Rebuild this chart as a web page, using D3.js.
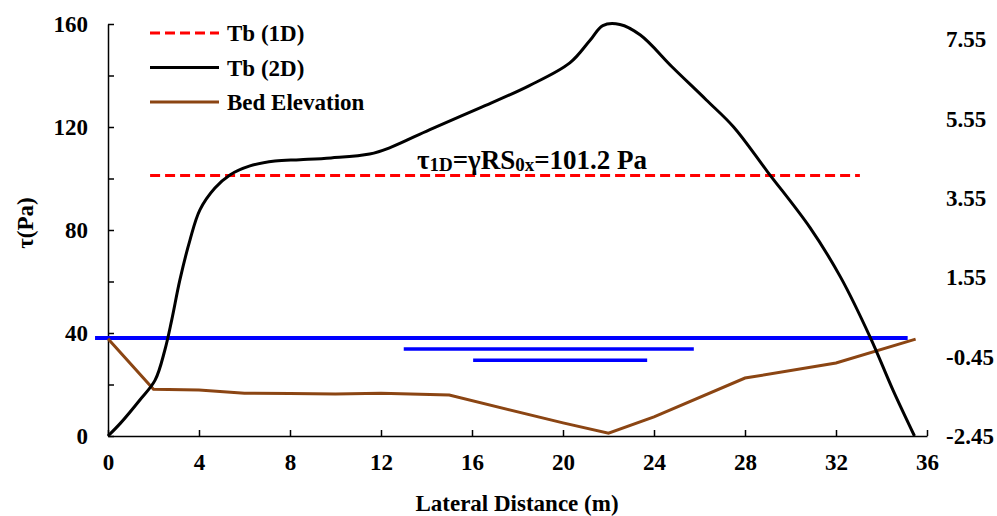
<!DOCTYPE html>
<html>
<head>
<meta charset="utf-8">
<script src="https://cdn.jsdelivr.net/npm/d3@7"></script>
<style>
  body { margin: 0; background: #fff; }
  svg text { font-family: "Times New Roman", "Liberation Serif", serif; font-weight: bold; fill: #000; }
</style>
</head>
<body>
<div id="chart"></div>
<script>
// Tb (2D) shear stress, Pa
const tb2dX = [0, 0.55, 1.4, 2.07, 2.5, 2.8, 3.16, 3.6, 4.04, 4.7, 5.36, 6.24, 7.34, 8.44, 9.8, 11.5, 12.4, 14.15, 16.35, 18.5, 20.3, 21.2, 21.75, 22.5, 23.4, 24.8, 26.3, 27.5, 29, 30.85, 32.2, 33.5, 34.5, 35.45];
const tb2dY = [0, 5, 14, 21.7, 33.4, 45, 60.6, 76, 87.8, 96.3, 101.4, 104.9, 106.8, 107.3, 108, 109.5, 112, 119, 127.4, 136, 144.9, 153.8, 159.4, 159.8, 155.7, 143.3, 130.5, 120, 102.5, 81, 61.7, 38.4, 17.9, 0];

// Tb (1D) constant value
const tb1dValue = 101.2;
const tb1dRange = [1.85, 33.05];

// Bed elevation (right axis, m)
const bedX = [0, 2, 4, 6, 8, 10, 12, 15, 20, 22, 24, 28, 32, 35.5];
const bedY = [0.0, -1.27, -1.29, -1.37, -1.38, -1.39, -1.37, -1.42, -2.12, -2.38, -1.97, -0.99, -0.61, -0.01];

// water surface marker lines (right axis units)
const waterX0 = [-0.57, 13.0, 16.05];
const waterX1 = [35.15, 25.75, 23.7];
const waterY = [0.02, -0.26, -0.54];

const xTicks = [0, 4, 8, 12, 16, 20, 24, 28, 32, 36];
const leftTicks = [0, 20, 40, 60, 80, 100, 120, 140, 160];
const rightTicks = [-2.45, -0.45, 1.55, 3.55, 5.55, 7.55];

const legendNames = ["Tb (1D)", "Tb (2D)", "Bed Elevation"];
const legendColors = ["#ff0000", "#000000", "#8b4513"];

const width = 997, height = 516;
const margin = { top: 24, left: 108 };
const fs = "23px";

const svg = d3.select("#chart").append("svg")
  .attr("width", width).attr("height", height);

const x = d3.scaleLinear().domain([0, 36]).range([margin.left, 927]);
const yL = d3.scaleLinear().domain([0, 160]).range([436, margin.top]);
const yR = d3.scaleLinear().domain([-2.45, 7.93]).range([436, margin.top]);

// axes
const xAxis = svg.append("g")
  .attr("transform", `translate(0,${yL(0)})`)
  .call(d3.axisBottom(x).tickValues(xTicks).tickSize(-6).tickPadding(18).tickSizeOuter(0));
xAxis.selectAll("text").style("font-size", fs);

const yAxis = svg.append("g")
  .attr("transform", `translate(${x(0)},0)`)
  .call(d3.axisLeft(yL).tickValues(leftTicks).tickSize(-6).tickPadding(20).tickSizeOuter(0)
    .tickFormat(d => d % 40 === 0 ? d : ""));
yAxis.selectAll("text").style("font-size", fs);

svg.selectAll(".domain, .tick line").attr("stroke", "#000").attr("stroke-width", 1.5);

svg.append("g").selectAll("text")
  .data(rightTicks).join("text")
  .attr("x", 946)
  .attr("y", d => yR(d))
  .attr("dy", "0.35em")
  .style("font-size", fs)
  .text(d => d.toFixed(2));

// axis titles
svg.append("text")
  .attr("x", 517).attr("y", 511)
  .attr("text-anchor", "middle")
  .style("font-size", fs)
  .text("Lateral Distance (m)");

svg.append("text")
  .attr("transform", `translate(33,223) rotate(-90)`)
  .attr("text-anchor", "middle")
  .style("font-size", fs)
  .text("τ(Pa)");

// water surface lines
svg.append("g").selectAll("line")
  .data(waterY).join("line")
  .attr("x1", (d, i) => x(waterX0[i]))
  .attr("x2", (d, i) => x(waterX1[i]))
  .attr("y1", d => yR(d))
  .attr("y2", d => yR(d))
  .attr("stroke", "#0000ff")
  .attr("stroke-width", (d, i) => i === 0 ? 4 : 3.5);

// bed elevation
svg.append("path")
  .datum(bedX.map((d, i) => [d, bedY[i]]))
  .attr("fill", "none")
  .attr("stroke", "#8b4513")
  .attr("stroke-width", 3)
  .attr("d", d3.line().x(d => x(d[0])).y(d => yR(d[1])));

// Tb (1D)
svg.append("line")
  .attr("x1", x(tb1dRange[0])).attr("x2", x(tb1dRange[1]))
  .attr("y1", yL(tb1dValue)).attr("y2", yL(tb1dValue))
  .attr("stroke", "#ff0000")
  .attr("stroke-width", 3)
  .attr("stroke-dasharray", "10,5");

// Tb (2D)
svg.append("path")
  .datum(tb2dX.map((d, i) => [d, tb2dY[i]]))
  .attr("fill", "none")
  .attr("stroke", "#000")
  .attr("stroke-width", 3)
  .attr("d", d3.line().curve(d3.curveCatmullRom.alpha(0.5)).x(d => x(d[0])).y(d => yL(d[1])));

// annotation
const ann = svg.append("text")
  .attr("x", 417).attr("y", 169)
  .style("font-size", "27px");
ann.append("tspan").text("τ");
ann.append("tspan").attr("dy", 2).style("font-size", "19px").text("1D");
ann.append("tspan").attr("dy", -2).text("=γRS");
ann.append("tspan").attr("dy", 2).style("font-size", "19px").text("0x");
ann.append("tspan").attr("dy", -2).text("=101.2 Pa");

// legend
const legend = svg.append("g");
legendNames.forEach((name, i) => {
  const ly = 33 + i * 34.5;
  legend.append("line")
    .attr("x1", 150).attr("x2", 219)
    .attr("y1", ly).attr("y2", ly)
    .attr("stroke", legendColors[i])
    .attr("stroke-width", 3)
    .attr("stroke-dasharray", i === 0 ? "10,5" : null);
  legend.append("text")
    .attr("x", 227).attr("y", ly)
    .attr("dy", "0.35em")
    .style("font-size", fs)
    .text(name);
});
</script>
</body>
</html>
